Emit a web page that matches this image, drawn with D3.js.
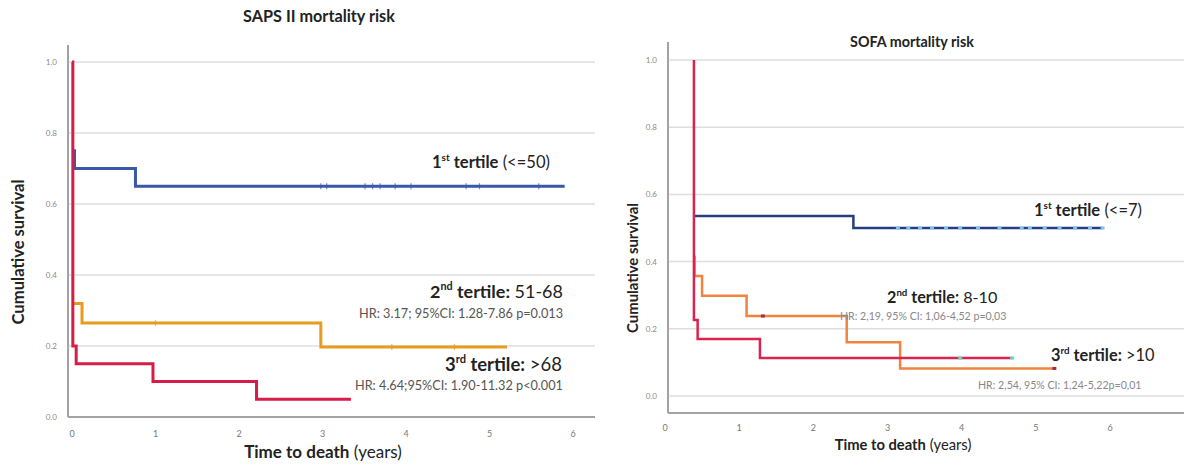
<!DOCTYPE html>
<html>
<head>
<meta charset="utf-8">
<script src="https://cdn.jsdelivr.net/npm/d3@7"></script>
<style>
  body { margin: 0; background: #fff; }
  svg { display: block; font-family: Lato, "Open Sans", sans-serif; }
</style>
</head>
<body>
<div id="chart"></div>
<script>
// ticks
const yTicks = [0, 0.2, 0.4, 0.6, 0.8, 1.0];
const yTickLabels = ["0.0", "0.2", "0.4", "0.6", "0.8", "1.0"];
const xTicks = [0, 1, 2, 3, 4, 5, 6];

// SAPS II curves (time in years, cumulative survival)
const sapsBlueT = [0.00, 0.03, 0.76, 5.90];
const sapsBlueS = [0.75, 0.70, 0.65, 0.65];
const sapsBlueCens = [2.98, 3.05, 3.51, 3.60, 3.69, 3.87, 4.06, 4.72, 4.88, 5.59];
const sapsOrangeT = [0.01, 0.12, 2.98, 5.21];
const sapsOrangeS = [0.32, 0.265, 0.197, 0.197];
const sapsOrangeCens = [1.00, 3.83, 4.58];
const sapsRedT = [0.00, 0.01, 0.05, 0.97, 2.21, 3.34];
const sapsRedS = [1.0, 0.20, 0.15, 0.10, 0.05, 0.05];
const sapsRedCens = [];

// SOFA curves
const sofaBlueT = [0.39, 2.54, 5.90];
const sofaBlueS = [0.536, 0.50, 0.50];
const sofaBlueCens = [3.14, 3.28, 3.44, 3.60, 3.79, 3.98, 4.22, 4.51, 4.81, 4.92, 5.12, 5.32, 5.53, 5.73, 5.90];
const sofaOrangeT = [0.39, 0.40, 0.50, 1.10, 2.45, 3.17, 5.25];
const sofaOrangeS = [0.414, 0.357, 0.298, 0.238, 0.16, 0.082, 0.082];
const sofaOrangeCens = [1.32, 5.25];
const sofaRedT = [0.39, 0.39, 0.44, 1.28, 4.68];
const sofaRedS = [1.0, 0.226, 0.17, 0.113, 0.113];
const sofaRedCens = [3.98, 4.68];

const width = 1184;
const height = 465;

const svg = d3.select("#chart").append("svg")
  .attr("width", width)
  .attr("height", height);

// make a text fit a given width by scaling its font size
const fit = (sel, w) => {
  const node = sel.node();
  const fs = parseFloat(sel.attr("font-size"));
  const bw = node.getBBox().width;
  if (bw > 0) sel.attr("font-size", (fs * w / bw).toFixed(2));
  return sel;
};

// parts: [text, weight, isSup]
const richText = (g, parts, x, y, fs, fill, anchor) => {
  const t = g.append("text")
    .attr("x", x).attr("y", y)
    .attr("font-size", fs)
    .attr("fill", fill)
    .attr("text-anchor", anchor || "start");
  let raised = false;
  parts.forEach(([s, w, sup]) => {
    const ts = t.append("tspan").text(s).attr("font-weight", w);
    if (sup) {
      ts.attr("font-size", "0.6em").attr("dy", "-0.7em");
      raised = true;
    } else if (raised) {
      ts.attr("dy", "0.42em");
      raised = false;
    }
  });
  return t;
};

const drawPanel = (p) => {
  const g = svg.append("g");
  const x = d3.scaleLinear().domain([0, 6]).range(p.xRange);
  const y = d3.scaleLinear().domain([0, 1]).range(p.yRange);

  // gridlines
  g.append("g").selectAll("line")
    .data(yTicks.filter(v => p.gridZero || v > 0))
    .join("line")
    .attr("x1", p.frameLeft).attr("x2", p.frameRight)
    .attr("y1", d => y(d)).attr("y2", d => y(d))
    .attr("stroke", "#dedede").attr("stroke-width", 1.5);

  // frame lines
  g.append("line")
    .attr("x1", p.frameLeft).attr("x2", p.frameLeft)
    .attr("y1", p.frameTop).attr("y2", p.frameBottom)
    .attr("stroke", "#a3a3a3").attr("stroke-width", 2);
  g.append("line")
    .attr("x1", p.frameLeft).attr("x2", p.frameRight)
    .attr("y1", p.frameBottom).attr("y2", p.frameBottom)
    .attr("stroke", "#a3a3a3").attr("stroke-width", 2);

  // tick labels
  g.append("g").selectAll("text")
    .data(yTicks)
    .join("text")
    .attr("x", p.yLabelX)
    .attr("y", d => y(d) + 3)
    .attr("text-anchor", "end")
    .attr("font-size", 8)
    .attr("fill", "#8a8a8a")
    .text((d, i) => yTickLabels[i]);
  g.append("g").selectAll("text")
    .data(xTicks)
    .join("text")
    .attr("x", d => x(d))
    .attr("y", p.xLabelY)
    .attr("text-anchor", "middle")
    .attr("font-size", 9)
    .attr("fill", "#777")
    .text(d => d);

  // titles
  fit(g.append("text")
    .attr("x", p.title.x).attr("y", p.title.y)
    .attr("text-anchor", "middle")
    .attr("font-size", 13).attr("font-weight", 700)
    .attr("fill", "#222")
    .text(p.title.text), p.title.w);

  fit(richText(g, [["Time to death", 700], [" (years)", 400]],
    p.xTitle.x, p.xTitle.y, 14, "#222", "middle"), p.xTitle.w);

  const yt = g.append("text")
    .attr("transform", `translate(${p.yTitle.x},${p.yTitle.y}) rotate(-90)`)
    .attr("text-anchor", "middle")
    .attr("dy", "0.35em")
    .attr("font-size", 13).attr("font-weight", 700)
    .attr("fill", "#222")
    .text("Cumulative survival");
  fit(yt, p.yTitle.w);

  // curves
  const line = d3.line()
    .x(d => x(d[0]))
    .y(d => y(d[1]))
    .curve(d3.curveStepAfter);

  p.series.forEach(s => {
    g.append("path")
      .datum(d3.zip(s.t, s.s))
      .attr("fill", "none")
      .attr("stroke", s.color)
      .attr("stroke-width", p.lineWidth)
      .attr("d", line);

    const survAt = (tt) => s.s[Math.max(0, d3.bisectRight(s.t, tt) - 1)];
    if (p.censorStyle === "tick") {
      g.append("g").selectAll("line")
        .data(s.cens)
        .join("line")
        .attr("x1", d => x(d)).attr("x2", d => x(d))
        .attr("y1", d => y(survAt(d)) - 3).attr("y2", d => y(survAt(d)) + 3)
        .attr("stroke", s.color).attr("stroke-width", 1.2)
        .attr("opacity", 0.7);
    } else {
      g.append("g").selectAll("rect")
        .data(s.cens)
        .join("rect")
        .attr("x", d => x(d) - 2).attr("y", d => y(survAt(d)) - 1.5)
        .attr("width", 4).attr("height", 3)
        .attr("fill", s.censColor);
    }
  });

  // annotations
  p.labels.forEach(l => {
    fit(richText(g, l.parts, l.x, l.y, l.fs, l.fill), l.w);
  });
};

drawPanel({
  xRange: [72, 573],
  yRange: [417, 62],
  frameLeft: 68, frameRight: 595, frameTop: 45, frameBottom: 417,
  gridZero: false,
  yLabelX: 57,
  xLabelY: 437,
  lineWidth: 3,
  censorStyle: "tick",
  title: { text: "SAPS II mortality risk", x: 319, y: 22, w: 152 },
  xTitle: { x: 323, y: 458, w: 158 },
  yTitle: { x: 18, y: 252, w: 145 },
  series: [
    { t: sapsBlueT, s: sapsBlueS, cens: sapsBlueCens, color: "#3a58a8" },
    { t: sapsOrangeT, s: sapsOrangeS, cens: sapsOrangeCens, color: "#e89c1e" },
    { t: sapsRedT, s: sapsRedS, cens: sapsRedCens, color: "#d81b47" }
  ],
  labels: [
    { parts: [["1", 700], ["st", 700, true], [" tertile", 700], [" (<=50)", 400]],
      x: 432, y: 168, w: 118, fs: 15, fill: "#222" },
    { parts: [["2", 700], ["nd", 700, true], [" tertile:", 700], [" 51-68", 400]],
      x: 430, y: 298, w: 133, fs: 16, fill: "#222" },
    { parts: [["HR: 3.17; 95%CI: 1.28-7.86 p=0.013", 400]],
      x: 359, y: 318, w: 204, fs: 9, fill: "#555" },
    { parts: [["3", 700], ["rd", 700, true], [" tertile:", 700], [" >68", 400]],
      x: 445, y: 371, w: 117, fs: 16, fill: "#222" },
    { parts: [["HR: 4.64;95%CI: 1.90-11.32 p<0.001", 400]],
      x: 355, y: 390, w: 208, fs: 9, fill: "#555" }
  ]
});

drawPanel({
  xRange: [665, 1110],
  yRange: [396, 60],
  frameLeft: 668, frameRight: 1184, frameTop: 42, frameBottom: 413,
  gridZero: true,
  yLabelX: 657,
  xLabelY: 431,
  lineWidth: 2.5,
  censorStyle: "dot",
  title: { text: "SOFA mortality risk", x: 912, y: 47, w: 124 },
  xTitle: { x: 903, y: 450, w: 137 },
  yTitle: { x: 633, y: 268, w: 130 },
  series: [
    { t: sofaBlueT, s: sofaBlueS, cens: sofaBlueCens, color: "#243f7e", censColor: "#7cc3ec" },
    { t: sofaOrangeT, s: sofaOrangeS, cens: sofaOrangeCens, color: "#f0843e", censColor: "#9c2f4a" },
    { t: sofaRedT, s: sofaRedS, cens: sofaRedCens, color: "#db2350", censColor: "#62d4c6" }
  ],
  labels: [
    { parts: [["1", 700], ["st", 700, true], [" tertile", 700], [" (<=7)", 400]],
      x: 1034, y: 216, w: 108, fs: 13, fill: "#222" },
    { parts: [["2", 700], ["nd", 700, true], [" tertile:", 700], [" 8-10", 400]],
      x: 887, y: 303, w: 111, fs: 13, fill: "#222" },
    { parts: [["HR: 2,19, 95% CI: 1,06-4,52 p=0,03", 400]],
      x: 840, y: 320, w: 167, fs: 8, fill: "#888" },
    { parts: [["3", 700], ["rd", 700, true], [" tertile:", 700], [" >10", 400]],
      x: 1051, y: 361, w: 104, fs: 13, fill: "#222" },
    { parts: [["HR: 2,54, 95% CI: 1,24-5,22p=0,01", 400]],
      x: 978, y: 389, w: 164, fs: 8, fill: "#888" }
  ]
});
</script>
</body>
</html>
